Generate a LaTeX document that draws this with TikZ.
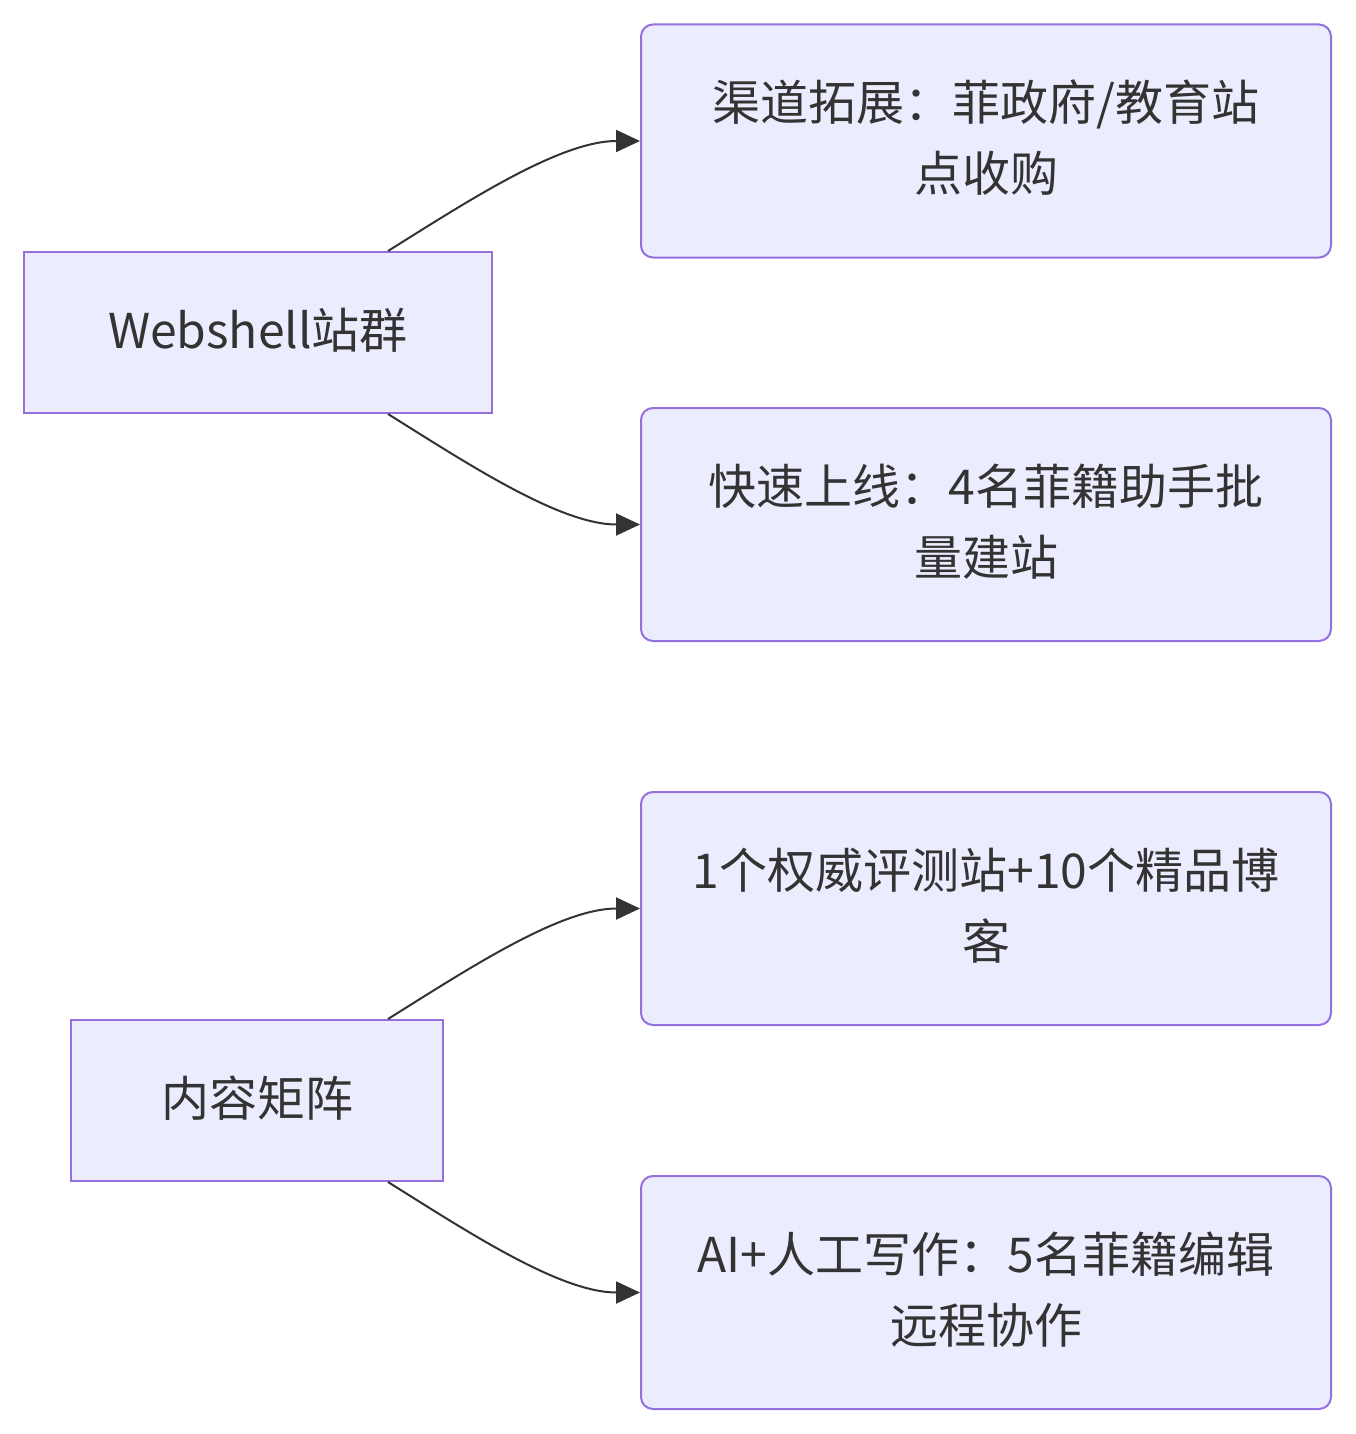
\documentclass[tikz,border=0pt]{standalone}
\usepackage{fontspec}
\setmainfont{Noto Sans CJK SC}
\usetikzlibrary{arrows.meta,positioning,calc}
\definecolor{nodefill}{HTML}{ECECFF}
\definecolor{nodeline}{HTML}{9370DB}
\definecolor{txt}{HTML}{333333}
\begin{document}
\begin{tikzpicture}[x=1pt,y=-1pt,
  base/.style={draw=nodeline,fill=nodefill,line width=2pt,text=txt,align=center,
    font=\fontsize{48}{71}\selectfont,inner sep=0pt},
  leftbox/.style={base,minimum height=161pt},
  rightbox/.style={base,rounded corners=12pt,minimum width=690pt,minimum height=233pt},
  lbl/.style={text=txt,align=center,font=\fontsize{48}{71}\selectfont,inner sep=0pt},
  link/.style={draw=txt,line width=2pt,-{Triangle[length=24pt,width=22pt]}}
]
\useasboundingbox (0,0) rectangle (1355,1434);
\node[leftbox,minimum width=468pt] (w) at (258,332.5) {};
\node[lbl] (wl) at (258,330) {Webshell站群};
\node[leftbox,minimum width=372pt] (c) at (257,1100.5) {};
\node[lbl] (cl) at (257,1098) {内容矩阵};
\node[rightbox] (b1) at (986,141) {};
\node[lbl] (b1l) at (986,138) {渠道拓展：菲政府/教育站\\点收购};
\node[rightbox] (b2) at (986,524.5) {};
\node[lbl] (b2l) at (986,521.5) {快速上线：4名菲籍助手批\\量建站};
\node[rightbox] (b3) at (986,908.5) {};
\node[lbl] (b3l) at (986,905.5) {1个权威评测站+10个精品博\\客};
\node[rightbox] (b4) at (986,1292.5) {};
\node[lbl] (b4l) at (986,1289.5) {AI+人工写作：5名菲籍编辑\\远程协作};
\coordinate (wt) at ([xshift=130pt]w.north);
\coordinate (wb) at ([xshift=130pt]w.south);
\coordinate (ct) at ([xshift=131pt]c.north);
\coordinate (cb) at ([xshift=131pt]c.south);
\draw[link] (wt) .. controls ++(80,-50) and ++(-80,0) .. (b1.west);
\draw[link] (wb) .. controls ++(80,50) and ++(-80,0) .. (b2.west);
\draw[link] (ct) .. controls ++(80,-50) and ++(-80,0) .. (b3.west);
\draw[link] (cb) .. controls ++(80,50) and ++(-80,0) .. (b4.west);
\end{tikzpicture}
\end{document}
